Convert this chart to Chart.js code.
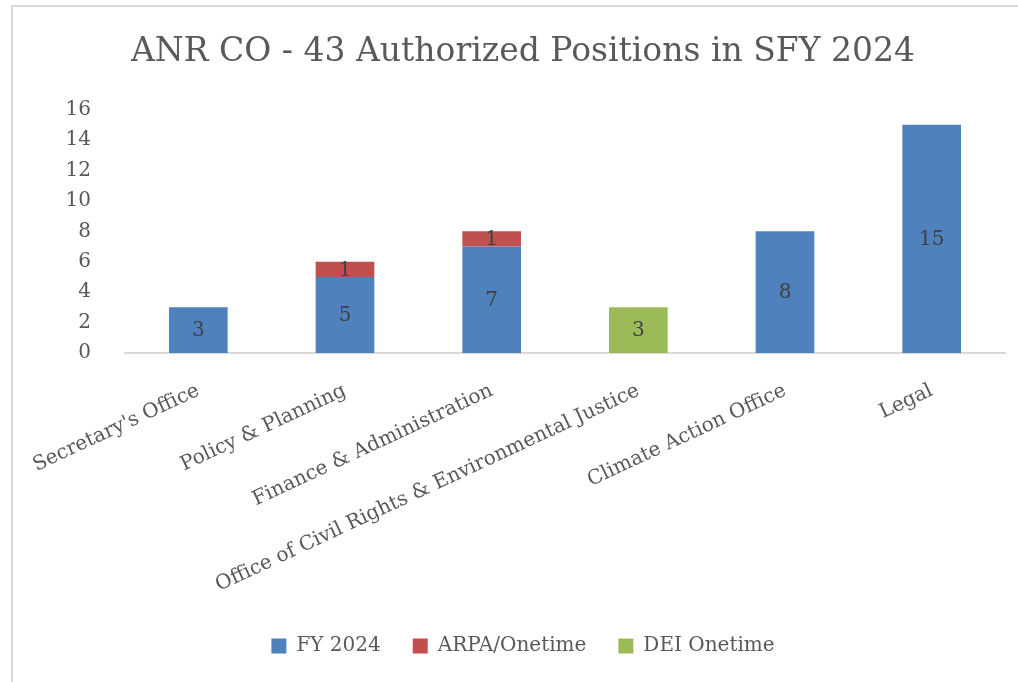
<!DOCTYPE html>
<html>
<head>
<meta charset="utf-8">
<script src="https://cdn.jsdelivr.net/npm/chart.js@4.4.0/dist/chart.umd.min.js"></script>
<style>
    html, body { margin: 0; padding: 0; background: #fff; }
    #wrap { position: relative; width: 1018px; height: 682px; overflow: hidden; }
    #frame { position: absolute; left: 11px; top: 5px; width: 1020px; height: 700px; border: 2px solid #d9d9d9; box-sizing: border-box; }
    canvas { position: absolute; left: 0; top: 0; }
</style>
</head>
<body>
<div id="wrap">
    <div id="frame"></div>
    <canvas id="positionsChart" width="1018" height="682"></canvas>
</div>
<script>
const categories = [
    "Secretary's Office",
    'Policy & Planning',
    'Finance & Administration',
    'Office of Civil Rights & Environmental Justice',
    'Climate Action Office',
    'Legal'
];
const fy2024 = [3, 5, 7, 0, 8, 15];
const arpaOnetime = [0, 1, 1, 0, 0, 0];
const deiOnetime = [0, 0, 0, 3, 0, 0];
const yTicks = [0, 2, 4, 6, 8, 10, 12, 14, 16];

const serif = "'DejaVu Serif', 'Liberation Serif', serif";
const textGrey = '#595959';

// draws the value in the middle of each non-zero segment
const barLabels = {
    id: 'barLabels',
    afterDatasetsDraw(chart) {
        const ctx = chart.ctx;
        ctx.save();
        ctx.font = '20px ' + serif;
        ctx.fillStyle = '#404040';
        ctx.textAlign = 'center';
        ctx.textBaseline = 'middle';
        chart.data.datasets.forEach((ds, i) => {
            const meta = chart.getDatasetMeta(i);
            meta.data.forEach((bar, j) => {
                const v = ds.data[j];
                if (!v) return;
                const mid = (bar.y + bar.base) / 2;
                ctx.fillText(String(v), bar.x, mid + 1);
            });
        });
        ctx.restore();
    }
};

const ctx = document.getElementById('positionsChart').getContext('2d');
new Chart(ctx, {
    type: 'bar',
    data: {
        labels: categories,
        datasets: [
            { label: 'FY 2024', data: fy2024, backgroundColor: '#4F81BD' },
            { label: 'ARPA/Onetime', data: arpaOnetime, backgroundColor: '#C0504D' },
            { label: 'DEI Onetime', data: deiOnetime, backgroundColor: '#9BBB59' }
        ]
    },
    options: {
        responsive: false,
        animation: false,
        datasets: {
            bar: { categoryPercentage: 1, barPercentage: 0.4 }
        },
        layout: {
            padding: { left: 41, right: 13, top: 0, bottom: 16 }
        },
        scales: {
            x: {
                stacked: true,
                grid: { display: false },
                border: { display: true, color: '#d9d9d9', width: 2 },
                ticks: {
                    color: textGrey,
                    font: { family: serif, size: 20 },
                    minRotation: 25,
                    maxRotation: 25,
                    autoSkip: false,
                    padding: 18
                },
                afterFit: function (scale) {
                    scale.height = 251;
                    // long rotated label runs past the axis box, don't clip it
                    scale._computeLabelArea = () => undefined;
                }
            },
            y: {
                stacked: true,
                min: 0,
                max: 16,
                grid: { display: false },
                border: { display: false },
                afterBuildTicks: function (scale) {
                    scale.ticks = yTicks.map(v => ({ value: v }));
                },
                ticks: {
                    color: textGrey,
                    font: { family: serif, size: 20 },
                    padding: 26,
                    autoSkip: false
                },
                afterFit: function (scale) { scale.width = 84; }
            }
        },
        plugins: {
            title: {
                display: true,
                text: 'ANR CO - 43 Authorized Positions in SFY 2024',
                color: textGrey,
                font: { family: serif, size: 33, weight: 'normal' },
                padding: { top: 33, bottom: 37 }
            },
            legend: {
                position: 'bottom',
                labels: {
                    color: textGrey,
                    font: { family: serif, size: 20 },
                    boxWidth: 15,
                    boxHeight: 15,
                    padding: 32
                }
            },
            tooltip: { enabled: false }
        }
    },
    plugins: [barLabels]
});
</script>
</body>
</html>
